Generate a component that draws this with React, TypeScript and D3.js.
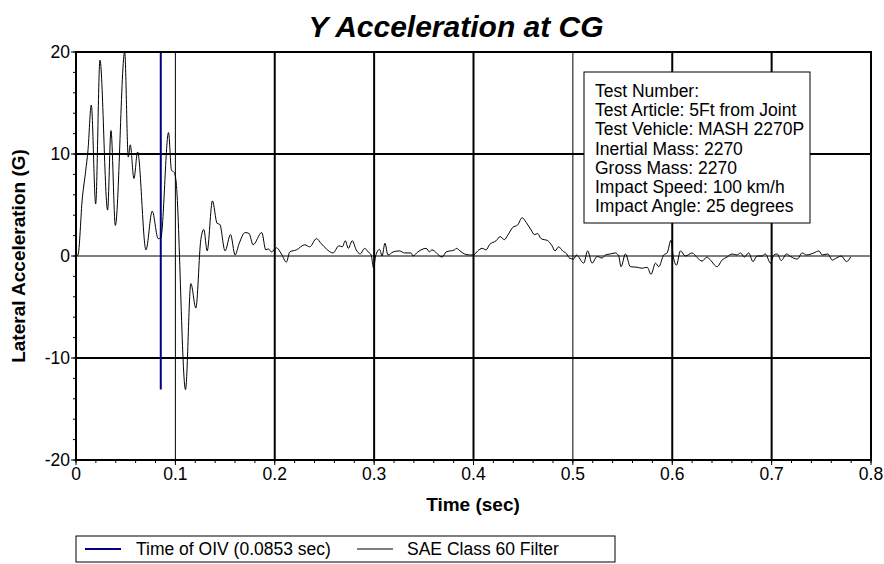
import React from "react";
import * as d3 from "d3";

// time (sec) and lateral acceleration (G)
const timeSec = [
  0.0, 0.002, 0.0064, 0.0097, 0.012, 0.0154, 0.0198, 0.0241, 0.0318, 0.0352, 0.0396, 0.049,
  0.0526, 0.0546, 0.0583, 0.062, 0.0704, 0.0767, 0.0827, 0.0854, 0.0931, 0.0961, 0.0988, 0.1005,
  0.1102, 0.1156, 0.1206, 0.1256, 0.1286, 0.132, 0.1373, 0.142, 0.1447, 0.15, 0.1555, 0.1601,
  0.1641, 0.1702, 0.1742, 0.1782, 0.1869, 0.191, 0.1936, 0.1966, 0.2017, 0.2067, 0.2117, 0.2151,
  0.2218, 0.2302, 0.2352, 0.2419, 0.2469, 0.2519, 0.2586, 0.2646, 0.268, 0.271, 0.274, 0.278,
  0.282, 0.286, 0.2905, 0.294, 0.297, 0.2995, 0.3015, 0.3055, 0.308, 0.3109, 0.3139, 0.3192,
  0.3256, 0.3306, 0.3373, 0.339, 0.344, 0.3524, 0.3558, 0.358, 0.3685, 0.3725, 0.381, 0.3826,
  0.3876, 0.391, 0.396, 0.4, 0.4043, 0.4087, 0.4127, 0.416, 0.4228, 0.4268, 0.431, 0.4345,
  0.4395, 0.4445, 0.4489, 0.453, 0.458, 0.4613, 0.4646, 0.468, 0.4747, 0.479, 0.482, 0.4857,
  0.4897, 0.4938, 0.4965, 0.5008, 0.5035, 0.5109, 0.5149, 0.5193, 0.5244, 0.5294, 0.5327, 0.5378,
  0.5428, 0.5461, 0.5485, 0.5529, 0.5579, 0.5646, 0.5697, 0.5747, 0.5787, 0.5831, 0.5864, 0.5914,
  0.5948, 0.5988, 0.6008, 0.6042, 0.6082, 0.6132, 0.62, 0.625, 0.63, 0.635, 0.6384, 0.6451,
  0.6501, 0.6552, 0.6602, 0.6652, 0.6686, 0.6726, 0.6769, 0.6813, 0.6853, 0.6904, 0.6937, 0.6989,
  0.7022, 0.7056, 0.7097, 0.715, 0.719, 0.7258, 0.7308, 0.7351, 0.7398, 0.7425, 0.7476, 0.7509,
  0.7566, 0.761, 0.7644, 0.77, 0.7754, 0.7795,
];
const accelG = [
  0.0, 0.1, 5.7, 8.3, 10.3, 14.8, 5.1, 19.2, 4.5, 12.3, 3.0, 20.0,
  9.7, 10.9, 7.6, 10.2, 0.6, 4.4, 1.7, 1.8, 12.1, 8.4, 8.2, 7.5,
  -13.1, -2.7, -5.1, 1.6, 2.6, 0.5, 5.4, 3.2, 3.1, 0.5, 2.1, 0.1,
  1.2, 2.3, 2.2, 1.1, 2.3, 0.6, 0.7, 0.4, 0.8, 0.2, -0.6, 0.4,
  0.6, 1.1, 0.9, 1.7, 1.2, 0.7, 0.3, 1.0, 0.9, 1.5, 0.75, 1.5,
  0.6, 0.2, 0.75, 0.4, 0.1, -1.2, 0.0, 0.65, 0.0, 1.25, 0.1, 0.4,
  0.5, 0.3, 0.3, 0.0, 0.4, 0.75, 0.4, 0.6, -0.1, 0.4, 0.6, 0.75,
  0.4, 0.2, 0.1, 0.1, 0.5, 0.75, 0.6, 1.1, 1.5, 1.9, 1.6, 2.05,
  2.8, 3.05, 3.75, 3.3, 2.55, 2.1, 2.2, 1.7, 1.5, 1.0, 0.5, 0.9,
  0.5, 0.2, -0.2, -0.3, 0.1, -0.7, 0.5, -0.7, -0.05, -0.2, 0.1, 0.2,
  0.3, 0.0, -1.05, 0.2, -1.05, -1.1, -1.2, -1.1, -1.8, -0.7, -1.05, 0.1,
  0.3, 1.55, 0.1, -0.9, 0.5, 0.0, 0.3, -0.15, -0.5, -0.1, -0.4, -1.05,
  -0.4, -0.1, 0.2, 0.1, 0.3, -0.1, 0.3, -0.55, 0.0, 0.0, 0.2, -0.7,
  0.1, 0.2, -0.45, 0.2, -0.05, -0.3, 0.3, 0.1, 0.2, 0.3, 0.5, 0.1,
  0.2, -0.4, -0.25, 0.0, -0.55, -0.1,
];

const oivTime = 0.0853;
const xTicks = [0, 0.1, 0.2, 0.3, 0.4, 0.5, 0.6, 0.7, 0.8];
const yTicks = [-20, -10, 0, 10, 20];
const thinX = [0.1, 0.5];
const infoLines = [
  "Test Number:",
  "Test Article: 5Ft from Joint",
  "Test Vehicle: MASH 2270P",
  "Inertial Mass: 2270",
  "Gross Mass: 2270",
  "Impact Speed: 100 km/h",
  "Impact Angle: 25 degrees",
];

const W = 884;
const H = 564;
const font = "'Liberation Sans', Arial, sans-serif";

export default function App() {
  const x = d3.scaleLinear().domain([0, 0.8]).range([76, 871]);
  const y = d3.scaleLinear().domain([-20, 20]).range([460, 52]);

  const pts: [number, number][] = timeSec.map((t, i) => [t, accelG[i]]);
  const line = d3
    .line<[number, number]>()
    .x((d) => x(d[0]))
    .y((d) => y(d[1]))
    .curve(d3.curveMonotoneX);

  const vMin = d3.min(accelG) as number;
  const vMax = d3.max(accelG) as number;

  const [x0, x1] = x.range();
  const [y0, y1] = y.range();

  return (
    <svg width={W} height={H} style={{ position: "absolute", left: 0, top: 0 }} fontFamily={font}>
      <rect width={W} height={H} fill="#fff" />
      <text x={456} y={37} textAnchor="middle" fontSize={30} fontWeight="bold" fontStyle="italic">
        Y Acceleration at CG
      </text>

      {/* grid */}
      {xTicks.slice(1, -1).map((t) => (
        <line key={"gx" + t} x1={x(t)} x2={x(t)} y1={y1} y2={y0} stroke="#000"
          strokeWidth={thinX.includes(t) ? 1 : 2} />
      ))}
      {yTicks.slice(1, -1).map((v) => (
        <line key={"gy" + v} x1={x0} x2={x1} y1={y(v)} y2={y(v)} stroke="#000"
          strokeWidth={v === 0 ? 1 : 2} />
      ))}

      {/* minor ticks */}
      {x.ticks(40).map((t) => (
        <line key={"mx" + t} x1={x(t)} x2={x(t)} y1={y0} y2={y0 + 3} stroke="#000" />
      ))}
      {y.ticks(20).map((v) => (
        <line key={"my" + v} x1={x0 - 3} x2={x0} y1={y(v)} y2={y(v)} stroke="#000" />
      ))}
      {xTicks.map((t) => (
        <g key={"tx" + t}>
          <line x1={x(t)} x2={x(t)} y1={y0} y2={y0 + 5} stroke="#000" />
          <text x={x(t)} y={y0 + 20} textAnchor="middle" fontSize={17.5}>{t}</text>
        </g>
      ))}
      {yTicks.map((v) => (
        <g key={"ty" + v}>
          <line x1={x0 - 5} x2={x0} y1={y(v)} y2={y(v)} stroke="#000" />
          <text x={x0 - 6} y={y(v) + 6} textAnchor="end" fontSize={17.5}>{v}</text>
        </g>
      ))}

      {/* OIV marker */}
      <line x1={x(oivTime)} x2={x(oivTime)} y1={y(vMax)} y2={y(vMin)} stroke="#000080" strokeWidth={2} />
      <path d={line(pts) || ""} fill="none" stroke="#000" strokeWidth={1} />

      <rect x={x0} y={y1} width={x1 - x0} height={y0 - y1} fill="none" stroke="#000" strokeWidth={2} />

      {/* info box */}
      <rect x={584} y={72} width={226} height={151} fill="#fff" stroke="#000" strokeWidth={1} />
      {infoLines.map((s, i) => (
        <text key={s} x={595} y={97 + i * 19.2} fontSize={17.5}>{s}</text>
      ))}

      <text x={473} y={511} textAnchor="middle" fontSize={19} fontWeight="bold">Time (sec)</text>
      <text transform="translate(25,256) rotate(-90)" textAnchor="middle" fontSize={19} fontWeight="bold">
        Lateral Acceleration (G)
      </text>

      {/* legend */}
      <rect x={76} y={536} width={539} height={26} fill="#fff" stroke="#000" strokeWidth={1} />
      <line x1={85} x2={121} y1={549} y2={549} stroke="#000080" strokeWidth={2} />
      <text x={136} y={555} fontSize={17.5}>Time of OIV ({oivTime} sec)</text>
      <line x1={357} x2={393} y1={549} y2={549} stroke="#000" strokeWidth={1} />
      <text x={407} y={555} fontSize={17.5}>SAE Class 60 Filter</text>
    </svg>
  );
}
